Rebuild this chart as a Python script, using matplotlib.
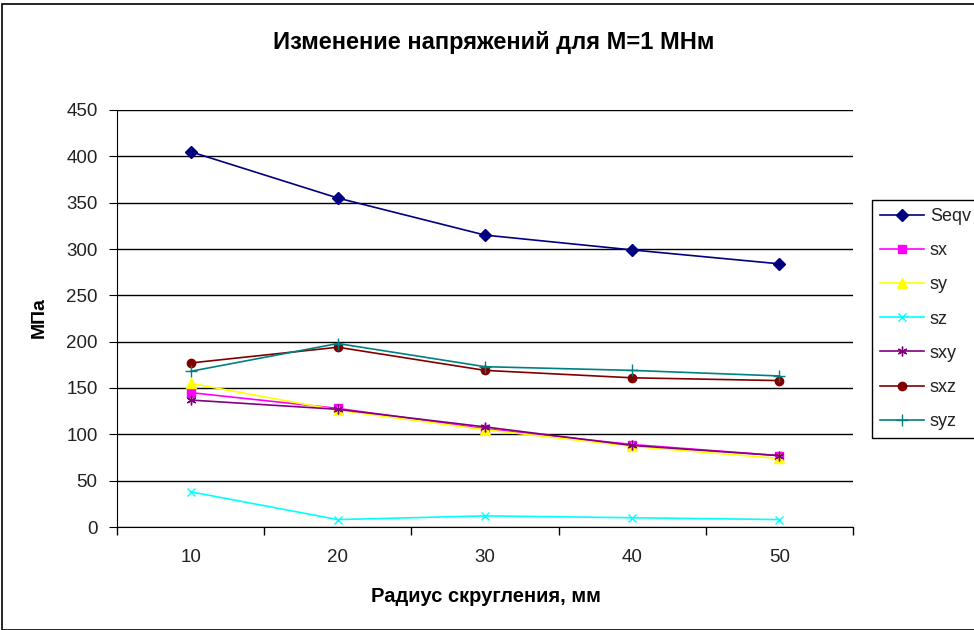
import numpy as np
import matplotlib.pyplot as plt
from matplotlib.patches import Rectangle

plt.rcParams['font.family'] = ['Liberation Sans', 'DejaVu Sans']

radius = ['10', '20', '30', '40', '50']
seqv = [405, 355, 315, 299, 284]
sx = [145, 128, 106, 89, 77]
sy = [155, 126, 105, 87, 74]
sz = [38, 8, 12, 10, 8]
sxy = [137, 127, 108, 88, 77]
sxz = [177, 194, 169, 161, 158]
syz = [168, 198, 173, 169, 163]

series = [
    ('Seqv', seqv, '#000080', 'D', 6),
    ('sx', sx, '#FF00FF', 's', 6),
    ('sy', sy, '#FFFF00', '^', 7),
    ('sz', sz, '#00FFFF', 'x', 6),
    ('sxy', sxy, '#800080', (6, 2, 0), 7),
    ('sxz', sxz, '#800000', 'o', 6),
    ('syz', syz, '#008080', '+', 8),
]

fig = plt.figure(figsize=(9.74, 6.30), dpi=100)
ax = fig.add_axes([117 / 974, 1 - 527 / 630, (853 - 117) / 974, (527 - 110) / 630])

x = np.arange(len(radius))
for name, vals, col, mk, ms in series:
    ax.plot(x, vals, color=col, marker=mk, markersize=ms, linewidth=1.2,
            markeredgecolor=col, markerfacecolor=col, label=name)

ax.set_xlim(-0.5, len(radius) - 0.5)
ax.set_ylim(0, 450)
ax.set_yticks(np.arange(0, 451, 50))
ax.set_xticks(x)
ax.set_xticklabels(radius)
ax.set_xticks(np.arange(-0.5, len(radius), 1), minor=True)
ax.tick_params(axis='x', which='major', length=0, pad=16, labelsize=13.5,
               labelcolor='#222222')
ax.tick_params(axis='x', which='minor', length=6, direction='out', width=1)
ax.tick_params(axis='y', length=6, direction='out', labelsize=13.5, pad=8,
               labelcolor='#222222')
ax.yaxis.grid(True, color='black', linewidth=1)
ax.set_axisbelow(True)
for s in ['top', 'right']:
    ax.spines[s].set_visible(False)
ax.spines['left'].set_color('black')
ax.spines['bottom'].set_color('black')

fig.text(494 / 974, 1 - 42 / 630, 'Изменение напряжений для М=1 МНм',
         ha='center', va='center', fontsize=17, fontweight='bold')
fig.text(39 / 974, 1 - 318 / 630, 'МПа', ha='center', va='center',
         rotation=90, fontsize=14, fontweight='bold')
fig.text(486 / 974, 1 - 596 / 630, 'Радиус скругления, мм', ha='center',
         va='center', fontsize=14.5, fontweight='bold')

leg = fig.legend(loc='upper left', bbox_to_anchor=(872 / 974, 1 - 200 / 630),
                 borderaxespad=0, fontsize=13, labelspacing=0.95,
                 handlelength=2.45, handletextpad=0.3, borderpad=0.45,
                 fancybox=False, framealpha=1, edgecolor='black')
leg.get_frame().set_linewidth(1)
for t in leg.get_texts():
    t.set_color('#222222')

fig.patches.append(Rectangle((2 / 974, 0), 1.2, 1 - 4 / 630, transform=fig.transFigure,
                             fill=False, edgecolor='black', linewidth=1.2))

plt.savefig('out.png', dpi=100)
